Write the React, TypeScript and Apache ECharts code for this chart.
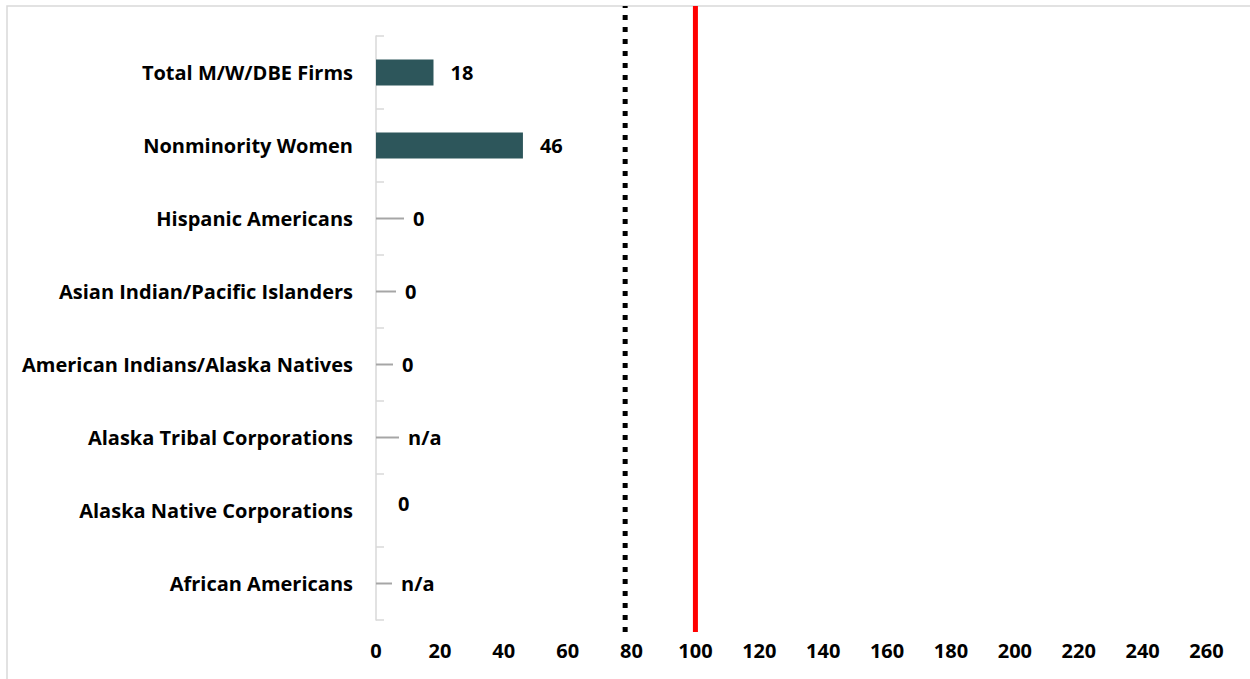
import React, { useEffect, useRef } from "react";
import * as echarts from "echarts";

// ---- data ----
const categories: string[] = [
  "Total M/W/DBE Firms",
  "Nonminority Women",
  "Hispanic Americans",
  "Asian Indian/Pacific Islanders",
  "American Indians/Alaska Natives",
  "Alaska Tribal Corporations",
  "Alaska Native Corporations",
  "African Americans",
];
// null = n/a
const disparityIndex: (number | null)[] = [18, 46, 0, 0, 0, null, 0, null];
const thresholdDotted = 78;
const thresholdParity = 100;
const xTicks = { min: 0, max: 260, interval: 20 };

// ---- label styling (leader line lengths in px, vertical nudge) ----
const leaderLen: number[] = [0, 0, 28, 20, 17, 23, 0, 16];
const labelDy: number[] = [0, 0, 0, 0, 0, 0, -7, 0];

const FONT = "'Open Sans', Lato, sans-serif";
const FS = 20;

export default function App() {
  const ref = useRef<HTMLDivElement>(null);
  useEffect(() => {
    if (!ref.current) return;
    const chart = echarts.init(ref.current, null, { renderer: "svg" });
    const labelText = (v: number | null) => (v === null ? "n/a" : String(v));
    const gridLeft = 376;
    const gridRight = 43.5;
    chart.setOption({
      animation: false,
      textStyle: { fontFamily: FONT },
      graphic: [
        {
          type: "rect",
          shape: { x: 7, y: 6, width: 1400, height: 800 },
          style: { fill: "none", stroke: "#d9d9d9", lineWidth: 1.5 },
          silent: true,
          z: -1,
        },
      ],
      grid: [
        { left: gridLeft, right: gridRight, top: 36, bottom: 59 },
        { left: gridLeft, right: gridRight, top: 6, bottom: 47 },
      ],
      xAxis: [
        {
          type: "value",
          gridIndex: 0,
          min: xTicks.min,
          max: xTicks.max,
          interval: xTicks.interval,
          axisLine: { show: false },
          axisTick: { show: false },
          splitLine: { show: false },
          axisLabel: {
            color: "#000",
            fontWeight: "bold",
            fontSize: FS,
            fontFamily: FONT,
            margin: 20,
          },
        },
        {
          type: "value",
          gridIndex: 1,
          min: xTicks.min,
          max: xTicks.max,
          interval: xTicks.interval,
          show: false,
        },
      ],
      yAxis: [
        {
          type: "category",
          gridIndex: 0,
          data: categories,
          inverse: true,
          axisLine: { show: true, lineStyle: { color: "#d9d9d9", width: 1.5 } },
          axisTick: {
            show: true,
            inside: true,
            length: 8,
            lineStyle: { color: "#d9d9d9", width: 1.5 },
          },
          splitLine: { show: false },
          axisLabel: {
            color: "#000",
            fontWeight: "bold",
            fontSize: FS,
            fontFamily: FONT,
            margin: 23,
          },
        },
        { type: "value", gridIndex: 1, min: 0, max: 1, show: false },
      ],
      series: [
        {
          type: "bar",
          xAxisIndex: 0,
          yAxisIndex: 0,
          data: disparityIndex.map((v) => (v === null ? 0 : v)),
          barWidth: 26,
          itemStyle: { color: "#2d565b" },
          label: {
            show: true,
            position: "right",
            distance: 17,
            color: "#000",
            fontWeight: "bold",
            fontSize: FS,
            fontFamily: FONT,
            formatter: (p: any) => (p.value > 0 ? String(p.value) : ""),
          },
        },
        {
          type: "custom",
          xAxisIndex: 0,
          yAxisIndex: 0,
          clip: false,
          data: disparityIndex.map((v, i) => [i, v === null ? 0 : v, v === null ? 1 : 0]),
          renderItem: (params: any, api: any) => {
            const i = api.value(0);
            const v = disparityIndex[i];
            if (v !== null && v > 0) return { type: "group", children: [] };
            const p = api.coord([0, i]);
            const len = leaderLen[i];
            const children: any[] = [];
            if (len > 0) {
              children.push({
                type: "line",
                shape: { x1: p[0], y1: p[1], x2: p[0] + len, y2: p[1] },
                style: { stroke: "#a6a6a6", lineWidth: 2 },
              });
            }
            children.push({
              type: "text",
              x: p[0] + (len > 0 ? len + 9 : 22),
              y: p[1] + labelDy[i],
              style: {
                text: labelText(v),
                fill: "#000",
                font: `bold ${FS}px ${FONT}`,
                textVerticalAlign: "middle",
                verticalAlign: "middle",
                align: "left",
              },
            });
            return { type: "group", children };
          },
        },
        {
          type: "line",
          xAxisIndex: 1,
          yAxisIndex: 1,
          data: [
            [thresholdDotted, 0],
            [thresholdDotted, 1],
          ],
          symbol: "none",
          lineStyle: { color: "#000", width: 5, type: [5, 7], cap: "butt" },
        },
        {
          type: "line",
          xAxisIndex: 1,
          yAxisIndex: 1,
          data: [
            [thresholdParity, 0],
            [thresholdParity, 1],
          ],
          symbol: "none",
          lineStyle: { color: "#ff0000", width: 5 },
        },
      ],
    });
    return () => chart.dispose();
  }, []);
  return (
    <div
      ref={ref}
      style={{ position: "fixed", left: 0, top: 0, width: 1250, height: 679, background: "#fff" }}
    />
  );
}
